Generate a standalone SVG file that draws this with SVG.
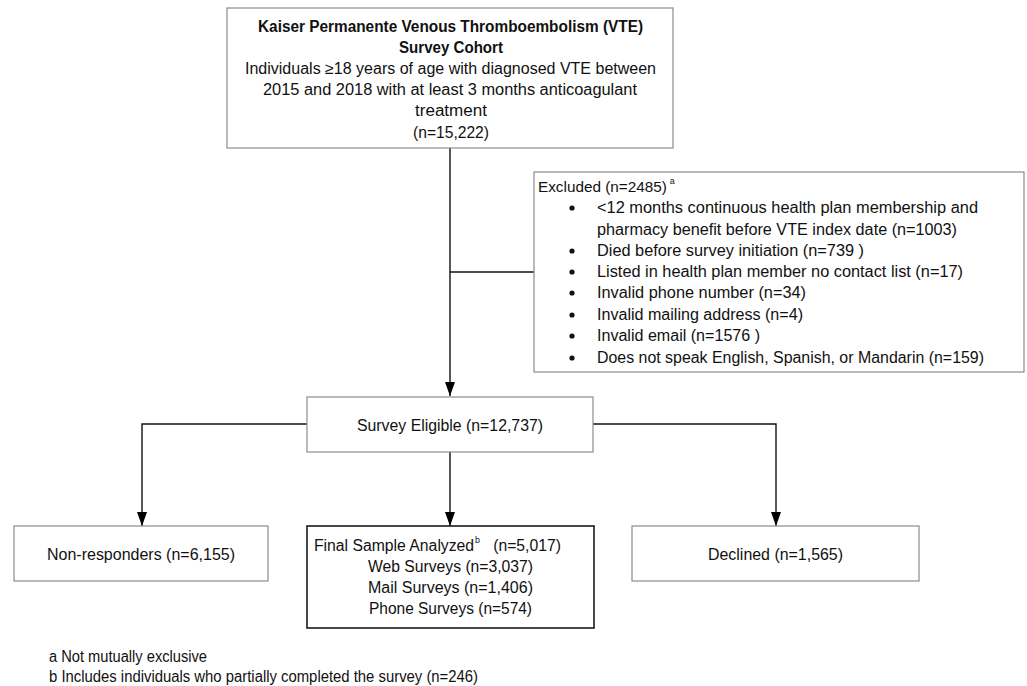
<svg xmlns="http://www.w3.org/2000/svg" width="1027" height="686" viewBox="0 0 1027 686">
<style>
.box{fill:#fff;stroke:#8c8c8c;stroke-width:1.2}
.boxb{fill:#fff;stroke:#1a1a1a;stroke-width:1.6}
.t{font-family:"Liberation Sans",Arial,sans-serif;font-size:16px;fill:#111}
.tb{font-family:"Liberation Sans",Arial,sans-serif;font-size:16px;font-weight:bold;fill:#111}
.s{font-family:"Liberation Sans",Arial,sans-serif;font-size:16px;fill:#111}
.sup{font-size:9px}
.c{fill:none;stroke:#111;stroke-width:1.4}
</style>
<defs>
<marker id="arr" viewBox="0 0 14 10" refX="14" refY="5" markerWidth="14" markerHeight="10" orient="auto" markerUnits="userSpaceOnUse">
<path d="M0,0 L14,5 L0,10 z" fill="#000"/>
</marker>
</defs>
<rect width="1027" height="686" fill="#fff"/>

<g id="connectors">
<path class="c" d="M450,148 V396" marker-end="url(#arr)"/>
<path class="c" d="M450,272 H534"/>
<path class="c" d="M307,424 H142 V526" marker-end="url(#arr)"/>
<path class="c" d="M450,452 V526" marker-end="url(#arr)"/>
<path class="c" d="M593,424 H776 V526" marker-end="url(#arr)"/>
</g>

<g id="cohort">
<rect class="box" x="227" y="8" width="446" height="140"/>
<text class="tb" x="258" y="32" textLength="385" lengthAdjust="spacingAndGlyphs">Kaiser Permanente Venous Thromboembolism (VTE)</text>
<text class="tb" x="399" y="53" textLength="104" lengthAdjust="spacingAndGlyphs">Survey Cohort</text>
<text class="t" x="245" y="74" textLength="411" lengthAdjust="spacingAndGlyphs">Individuals ≥18 years of age with diagnosed VTE between</text>
<text class="t" x="263" y="95" textLength="374" lengthAdjust="spacingAndGlyphs">2015 and 2018 with at least 3 months anticoagulant</text>
<text class="t" x="415" y="116" textLength="72" lengthAdjust="spacingAndGlyphs">treatment</text>
<text class="t" x="413" y="138" textLength="76" lengthAdjust="spacingAndGlyphs">(n=15,222)</text>
</g>

<g id="excluded">
<rect class="box" x="534" y="172" width="490" height="200"/>
<text class="t" x="538" y="192" style="font-size:15.3px">Excluded (n=2485)<tspan class="sup" dx="3" dy="-8">a</tspan></text>
<g fill="#111">
<circle cx="572" cy="208" r="2.6"/>
<circle cx="572" cy="251" r="2.6"/>
<circle cx="572" cy="272" r="2.6"/>
<circle cx="572" cy="293" r="2.6"/>
<circle cx="572" cy="315" r="2.6"/>
<circle cx="572" cy="336" r="2.6"/>
<circle cx="572" cy="358" r="2.6"/>
</g>
<text class="t" x="597" y="213" textLength="381" lengthAdjust="spacingAndGlyphs">&lt;12 months continuous health plan membership and</text>
<text class="t" x="597" y="235" textLength="360" lengthAdjust="spacingAndGlyphs">pharmacy benefit before VTE index date (n=1003)</text>
<text class="t" x="597" y="256" textLength="267" lengthAdjust="spacingAndGlyphs">Died before survey initiation (n=739 )</text>
<text class="t" x="597" y="277" textLength="366" lengthAdjust="spacingAndGlyphs">Listed in health plan member no contact list (n=17)</text>
<text class="t" x="597" y="298" textLength="209" lengthAdjust="spacingAndGlyphs">Invalid phone number (n=34)</text>
<text class="t" x="597" y="320" textLength="206" lengthAdjust="spacingAndGlyphs">Invalid mailing address (n=4)</text>
<text class="t" x="597" y="341" textLength="163" lengthAdjust="spacingAndGlyphs">Invalid email (n=1576 )</text>
<text class="t" x="597" y="363" textLength="387" lengthAdjust="spacingAndGlyphs">Does not speak English, Spanish, or Mandarin (n=159)</text>
</g>

<g id="eligible">
<rect class="box" x="307" y="397" width="286" height="55"/>
<text class="s" x="357" y="431" textLength="186" lengthAdjust="spacingAndGlyphs">Survey Eligible (n=12,737)</text>
</g>

<g id="nonresponders">
<rect class="box" x="14" y="526" width="254" height="55"/>
<text class="s" x="47" y="560" textLength="188" lengthAdjust="spacingAndGlyphs">Non-responders (n=6,155)</text>
</g>

<g id="final">
<rect class="boxb" x="307" y="526" width="287" height="102"/>
<text class="s" x="314" y="551" textLength="247" lengthAdjust="spacingAndGlyphs">Final Sample Analyzed<tspan class="sup" dx="1" dy="-8">b</tspan><tspan dy="8" xml:space="preserve">   (n=5,017)</tspan></text>
<text class="s" x="368" y="572" textLength="165" lengthAdjust="spacingAndGlyphs">Web Surveys (n=3,037)</text>
<text class="s" x="368" y="593" textLength="165" lengthAdjust="spacingAndGlyphs">Mail Surveys (n=1,406)</text>
<text class="s" x="369" y="614" textLength="163" lengthAdjust="spacingAndGlyphs">Phone Surveys (n=574)</text>
</g>

<g id="declined">
<rect class="box" x="632" y="526" width="287" height="55"/>
<text class="s" x="708" y="560" textLength="135" lengthAdjust="spacingAndGlyphs">Declined (n=1,565)</text>
</g>

<g id="footnotes">
<text class="s" x="49" y="662" textLength="158" lengthAdjust="spacingAndGlyphs">a Not mutually exclusive</text>
<text class="s" x="49" y="682" textLength="429" lengthAdjust="spacingAndGlyphs">b Includes individuals who partially completed the survey (n=246)</text>
</g>
</svg>
